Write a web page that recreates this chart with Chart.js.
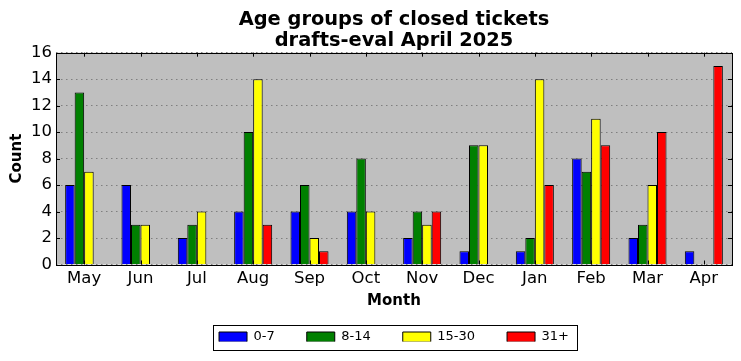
<!DOCTYPE html>
<html lang="en">
<head>
    <meta charset="UTF-8">
    <title>Age groups of closed tickets</title>
    <script src="https://cdn.jsdelivr.net/npm/chart.js@4"></script>
    <style>
        body { margin: 0; background: #fff; }
        #wrap { width: 741px; height: 361px; }
    </style>
</head>
<body>
<div id="wrap">
    <canvas id="ageChart" width="741" height="361"></canvas>
</div>
<script>
    // data
    const months = ['May', 'Jun', 'Jul', 'Aug', 'Sep', 'Oct', 'Nov', 'Dec', 'Jan', 'Feb', 'Mar', 'Apr'];
    const age0to7   = [6, 6, 2, 4, 4, 4, 2, 1, 1, 8, 2, 1];
    const age8to14  = [13, 3, 3, 10, 6, 8, 4, 9, 2, 7, 3, 0];
    const age15to30 = [7, 3, 4, 14, 2, 4, 3, 9, 14, 11, 6, 0];
    const age31plus = [0, 0, 0, 3, 1, 0, 4, 0, 6, 9, 10, 15];
    const yTicks = [0, 2, 4, 6, 8, 10, 12, 14, 16];

    const FONT = 'DejaVu Sans';
    const LEGEND_LIFT = 12; // legend padding is used both ways, pull the items up a bit

    // title and legend are centred on the plot, not on the whole canvas
    function plotShift(chart, box) {
        const a = chart.chartArea;
        return (a.left + a.right) / 2 - (box.left + box.right) / 2;
    }

    function patchBox(chart, box, dy) {
        if (!box || box._patched) return;
        const draw = box.draw;
        box.draw = function (area) {
            const ctx = this.ctx;
            ctx.save();
            ctx.translate(plotShift(chart, this), dy);
            draw.call(this, area);
            ctx.restore();
        };
        if (dy) {
            const fit = box.fit;
            box.fit = function () {
                fit.call(this);
                this.height -= LEGEND_LIFT;
            };
        }
        box._patched = true;
    }

    // gray plot background, frame and inward tick marks like the original
    const framePlugin = {
        id: 'frame',
        beforeLayout(chart) {
            patchBox(chart, chart.titleBlock, 0);
            patchBox(chart, chart.legend, -LEGEND_LIFT);
        },
        beforeDraw(chart) {
            const a = chart.chartArea, ctx = chart.ctx;
            ctx.save();
            ctx.fillStyle = '#bfbfbf';
            ctx.fillRect(a.left, a.top, a.right - a.left, a.bottom - a.top);
            ctx.restore();
        },
        afterDatasetsDraw(chart) {
            const a = chart.chartArea, ctx = chart.ctx;
            const xs = chart.scales.x, ys = chart.scales.y;
            ctx.save();
            ctx.strokeStyle = '#000';
            ctx.lineWidth = 1;
            ctx.beginPath();
            xs.ticks.forEach((t, i) => {
                const px = Math.round(xs.getPixelForTick(i)) + 0.5;
                ctx.moveTo(px, a.top); ctx.lineTo(px, a.top + 4);
                ctx.moveTo(px, a.bottom); ctx.lineTo(px, a.bottom - 4);
            });
            ys.ticks.forEach((t, i) => {
                const py = Math.round(ys.getPixelForTick(i)) + 0.5;
                ctx.moveTo(a.left, py); ctx.lineTo(a.left + 4, py);
                ctx.moveTo(a.right, py); ctx.lineTo(a.right - 4, py);
            });
            ctx.stroke();
            ctx.strokeRect(Math.round(a.left) + 0.5, Math.round(a.top) + 0.5,
                Math.round(a.right - a.left), Math.round(a.bottom - a.top));
            ctx.restore();
        },
        afterDraw(chart) {
            const lg = chart.legend;
            const boxes = lg && lg.legendHitBoxes;
            if (!boxes || !boxes.length) return;
            const ctx = chart.ctx;
            const dx = plotShift(chart, lg);
            const left = Math.min(...boxes.map(b => b.left)) - 6 + dx;
            const right = Math.max(...boxes.map(b => b.left + b.width)) + 8 + dx;
            const top = Math.min(...boxes.map(b => b.top)) - 6 - LEGEND_LIFT;
            const bottom = Math.max(...boxes.map(b => b.top + b.height)) + 6 - LEGEND_LIFT;
            ctx.save();
            ctx.strokeStyle = '#000';
            ctx.lineWidth = 1;
            ctx.strokeRect(Math.round(left) + 0.5, Math.round(top) + 0.5,
                Math.round(right - left), Math.round(bottom - top));
            ctx.restore();
        }
    };

    const mkSet = (label, values, color) => ({
        label: label,
        data: values,
        backgroundColor: color,
        borderColor: '#000',
        borderWidth: 1,
        categoryPercentage: 0.675,
        barPercentage: 1.0
    });

    new Chart(document.getElementById('ageChart'), {
        type: 'bar',
        data: {
            labels: months,
            datasets: [
                mkSet('0-7', age0to7, '#0000ff'),
                mkSet('8-14', age8to14, '#008000'),
                mkSet('15-30', age15to30, '#ffff00'),
                mkSet('31+', age31plus, '#ff0000')
            ]
        },
        options: {
            responsive: false,
            animation: false,
            layout: { padding: { left: 0, right: 9, top: 0, bottom: 7.5 } },
            plugins: {
                title: {
                    display: true,
                    text: ['Age groups of closed tickets', 'drafts-eval April 2025'],
                    font: { family: FONT, size: 19.4, weight: 'bold', lineHeight: 1.1 },
                    color: '#000',
                    padding: { top: 9, bottom: 1 }
                },
                legend: {
                    position: 'bottom',
                    labels: {
                        font: { family: FONT, size: 13 },
                        color: '#000',
                        boxWidth: 28,
                        boxHeight: 10,
                        padding: 32,
                        useBorderRadius: false
                    }
                },
                tooltip: { enabled: false }
            },
            scales: {
                x: {
                    afterFit: s => { s.height = 46; },
                    grid: { display: false, drawTicks: false },
                    border: { display: false },
                    ticks: { color: '#000', font: { family: FONT, size: 16.5 }, padding: 4.6 },
                    title: {
                        display: true,
                        text: 'Month',
                        color: '#000',
                        font: { family: FONT, size: 15, weight: 'bold' },
                        padding: { top: 0, bottom: 0 }
                    }
                },
                y: {
                    min: 0,
                    max: 16,
                    afterBuildTicks: s => { s.ticks = yTicks.map(v => ({ value: v })); },
                    afterFit: s => { s.width = 56; },
                    grid: {
                        color: '#7f7f7f',
                        drawTicks: false
                    },
                    border: { display: false, dash: [1.5, 3.5] },
                    ticks: { color: '#000', font: { family: FONT, size: 16.5 }, padding: 4 },
                    title: {
                        display: true,
                        text: 'Count',
                        color: '#000',
                        font: { family: FONT, size: 15, weight: 'bold' },
                        padding: { top: 8, bottom: 0 }
                    }
                }
            }
        },
        plugins: [framePlugin]
    });
</script>
</body>
</html>
